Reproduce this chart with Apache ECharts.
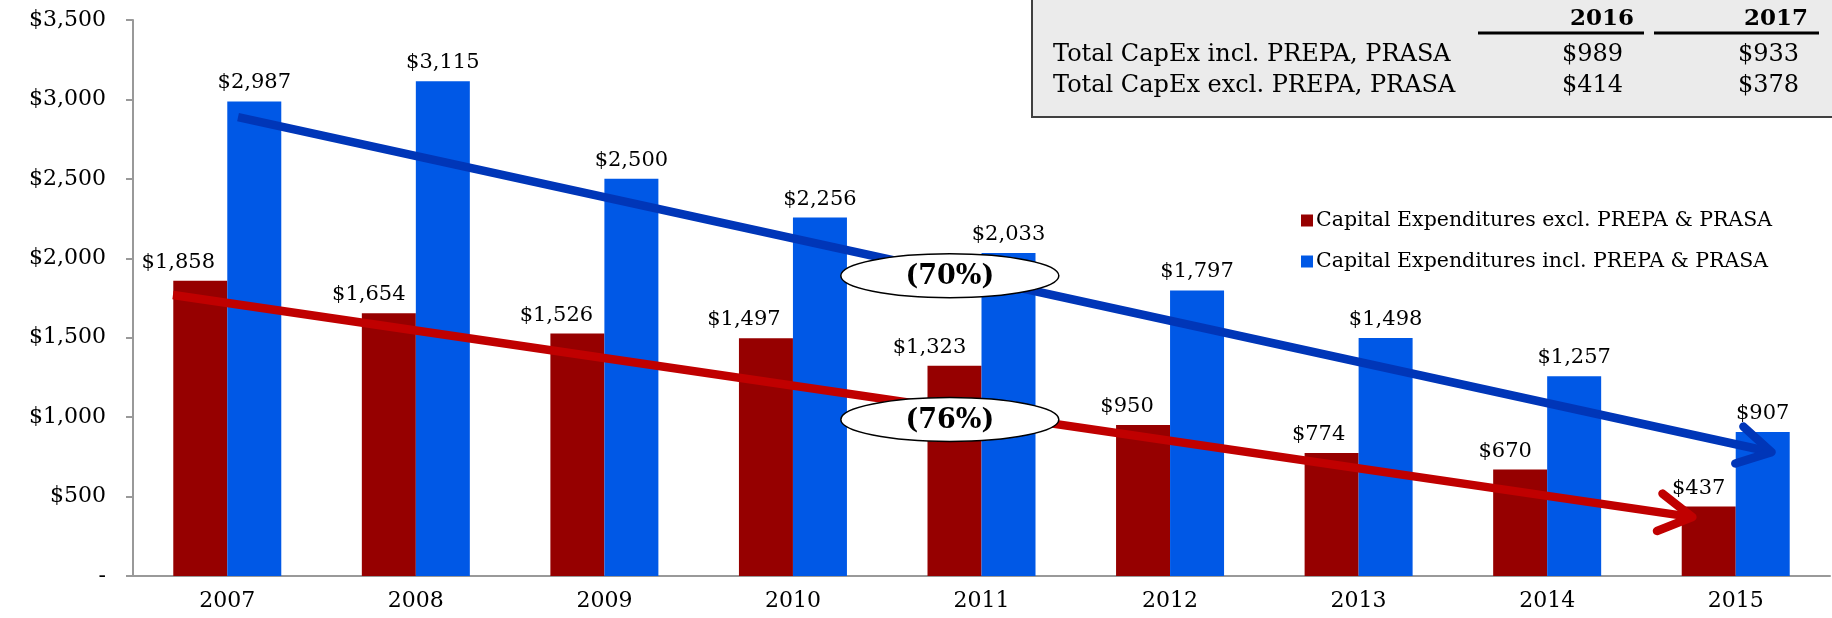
<!DOCTYPE html>
<html>
<head>
<meta charset="utf-8">
<script src="https://cdn.jsdelivr.net/npm/echarts@6/dist/echarts.min.js"></script>
<style>
html,body{margin:0;padding:0;background:#fff;}
#chart{width:1832px;height:618px;}
</style>
</head>
<body>
<div id="chart"></div>
<script>
// ---- data ----
const categories = ['2007','2008','2009','2010','2011','2012','2013','2014','2015'];
const exclName = 'Capital Expenditures excl. PREPA & PRASA';
const inclName = 'Capital Expenditures incl. PREPA & PRASA';
const exclValues = [1858,1654,1526,1497,1323,950,774,670,437];
const inclValues = [2987,3115,2500,2256,2033,1797,1498,1257,907];
const yMin = 0, yMax = 3500, yStep = 500;

// trend arrows: [xStart (category units), valueStart, xEnd, valueEnd]
const inclTrend = [0.557, 2889, 8.69, 780];
const exclTrend = [0.212, 1769, 8.27, 371];
// percent-change callouts: [x (category units), value]
const inclCallout = [4.332, 1890];
const exclCallout = [4.332, 985];
const calloutTexts = ['(70%)', '(76%)'];

// side table
const tableYears = ['2016','2017'];
const tableRowLabels = ['Total CapEx incl. PREPA, PRASA','Total CapEx excl. PREPA, PRASA'];
const tableIncl = [989, 933];
const tableExcl = [414, 378];

// ---- styles ----
const RED = '#960000', BLUE = '#0058e6';
const RED_LINE = '#c00000', BLUE_LINE = '#0036b8';
const FONT = 'DejaVu Serif';
const exclLabelShift = [-22,-20,-21,-22,-25,-16,-13,-15,-10];
const fmt = v => '$' + Number(v).toLocaleString('en-US');

const chart = echarts.init(document.getElementById('chart'));

function arrowRender(params, api) {
  const p1 = api.coord([api.value(0), api.value(1)]);
  const p2 = api.coord([api.value(2), api.value(3)]);
  const color = params.dataIndex === 0 ? BLUE_LINE : RED_LINE;
  const ang = Math.atan2(p2[1]-p1[1], p2[0]-p1[0]);
  const L = 38, a = 0.52;
  const h1 = [p2[0]-L*Math.cos(ang-a), p2[1]-L*Math.sin(ang-a)];
  const h2 = [p2[0]-L*Math.cos(ang+a), p2[1]-L*Math.sin(ang+a)];
  const e = [p2[0]-5*Math.cos(ang), p2[1]-5*Math.sin(ang)];
  return {type:'group', children:[
    {type:'line', shape:{x1:p1[0],y1:p1[1],x2:e[0],y2:e[1]}, style:{stroke:color, lineWidth:8.5, lineCap:'butt'}},
    {type:'polyline', shape:{points:[h1,p2,h2]}, style:{stroke:color, fill:null, lineWidth:8.5, lineCap:'round', lineJoin:'round'}}
  ]};
}

function calloutRender(params, api) {
  const c = api.coord([api.value(0), api.value(1)]);
  return {type:'group', children:[
    {type:'ellipse', shape:{cx:c[0], cy:c[1], rx:109, ry:22}, style:{fill:'#fff', stroke:'#000', lineWidth:1.5}},
    {type:'text', x:c[0], y:c[1]+1, style:{text:calloutTexts[params.dataIndex], font:'bold 27px "DejaVu Serif"', fill:'#000', align:'center', verticalAlign:'middle'}}
  ]};
}

// table graphics
const colRight = [1634, 1808];
const valRight = [1623, 1799];
const rowY = [55, 86];
const tableGraphics = [
  {type:'rect', shape:{x:1032, y:-2, width:804, height:119}, style:{fill:'#ebebeb', stroke:'#404040', lineWidth:2}, z:10},
  {type:'line', shape:{x1:1478, y1:33, x2:1644, y2:33}, style:{stroke:'#000', lineWidth:3}, z:11},
  {type:'line', shape:{x1:1654, y1:33, x2:1819, y2:33}, style:{stroke:'#000', lineWidth:3}, z:11}
];
tableYears.forEach((y,i)=>tableGraphics.push({type:'text', x:colRight[i], y:19, z:11,
  style:{text:y, font:'bold 23px "DejaVu Serif"', fill:'#000', align:'right', verticalAlign:'middle'}}));
tableRowLabels.forEach((t,i)=>tableGraphics.push({type:'text', x:1053, y:rowY[i], z:11,
  style:{text:t, font:'24px "DejaVu Serif"', fill:'#000', align:'left', verticalAlign:'middle'}}));
[tableIncl, tableExcl].forEach((row,r)=>row.forEach((v,i)=>tableGraphics.push({type:'text', x:valRight[i], y:rowY[r], z:11,
  style:{text:fmt(v), font:'24px "DejaVu Serif"', fill:'#000', align:'right', verticalAlign:'middle'}})));

const option = {
  animation:false,
  backgroundColor:'#fff',
  textStyle:{fontFamily:FONT},
  grid:{left:133, right:2, top:20, bottom:42, containLabel:false},
  legend:{
    orient:'vertical', left:1296, top:205, itemWidth:12, itemHeight:12, itemGap:20,
    icon:'rect', data:[exclName, inclName],
    textStyle:{fontFamily:FONT, fontSize:20.5, color:'#000', padding:[0,0,0,-2]}
  },
  xAxis:[
    {type:'category', data:categories,
     axisLine:{lineStyle:{color:'#999', width:2}}, axisTick:{show:false},
     axisLabel:{color:'#000', fontFamily:FONT, fontSize:22, margin:14}},
    {type:'value', min:0, max:categories.length, show:false}
  ],
  yAxis:{type:'value', min:yMin, max:yMax, interval:yStep,
    splitLine:{show:false},
    axisLine:{show:true, lineStyle:{color:'#999', width:2}},
    axisTick:{show:true, length:7, lineStyle:{color:'#999', width:2}},
    axisLabel:{color:'#000', fontFamily:FONT, fontSize:22, margin:27,
      formatter: v => v === 0 ? '-' : fmt(v)}
  },
  graphic: tableGraphics,
  series:[
    {name:exclName, type:'bar', barWidth:54, barGap:'0%',
     data: exclValues.map((v,i)=>({value:v, label:{offset:[exclLabelShift[i],0]}})),
     itemStyle:{color:RED},
     label:{show:true, position:'top', distance:8, color:'#000', fontFamily:FONT, fontSize:21, formatter:p=>fmt(p.value)}},
    {name:inclName, type:'bar', data:inclValues, barWidth:54, barGap:'0%',
     itemStyle:{color:BLUE},
     label:{show:true, position:'top', distance:8, color:'#000', fontFamily:FONT, fontSize:21, formatter:p=>fmt(p.value)}},
    {type:'custom', xAxisIndex:1, yAxisIndex:0, z:5, clip:false,
     renderItem:arrowRender, data:[inclTrend, exclTrend], encode:{x:[0,2], y:[1,3]}, silent:true},
    {type:'custom', xAxisIndex:1, yAxisIndex:0, z:6, clip:false,
     renderItem:calloutRender, data:[inclCallout, exclCallout], encode:{x:0, y:1}, silent:true}
  ]
};
chart.setOption(option);
</script>
</body>
</html>
